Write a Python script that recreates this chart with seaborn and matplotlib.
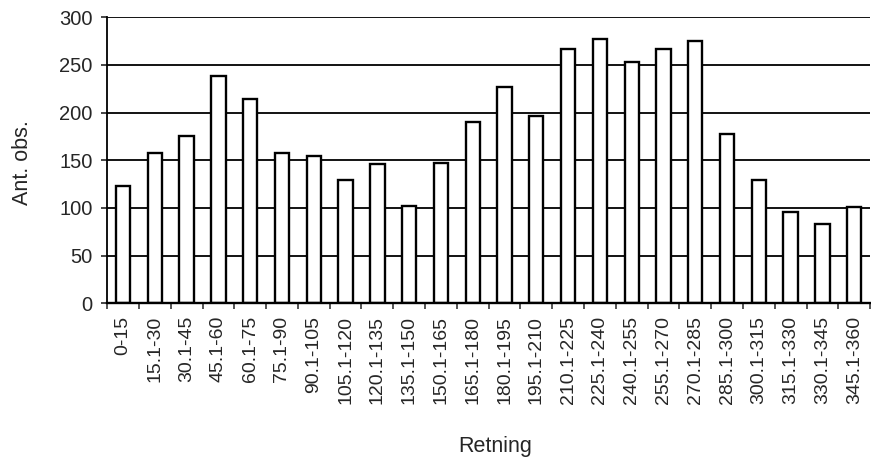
import numpy as np
import pandas as pd
import matplotlib
matplotlib.use("Agg")
import matplotlib.pyplot as plt
import seaborn as sns
from matplotlib.ticker import FixedLocator

# Data
retning = ["0-15", "15.1-30", "30.1-45", "45.1-60", "60.1-75", "75.1-90",
           "90.1-105", "105.1-120", "120.1-135", "135.1-150", "150.1-165",
           "165.1-180", "180.1-195", "195.1-210", "210.1-225", "225.1-240",
           "240.1-255", "255.1-270", "270.1-285", "285.1-300", "300.1-315",
           "315.1-330", "330.1-345", "345.1-360"]
ant_obs = [123, 158, 175, 238, 214, 158, 154, 129, 146, 102, 147, 190,
           227, 196, 267, 277, 253, 267, 275, 178, 129, 96, 83, 101]
y_ticks = [0, 50, 100, 150, 200, 250, 300]

data = pd.DataFrame({"Retning": retning, "Ant. obs.": ant_obs})

sns.set_style("white")
plt.rcParams["font.family"] = ["Liberation Sans", "DejaVu Sans"]

fig = plt.figure(figsize=(8.71, 4.65), dpi=100)
ax = fig.add_axes([0.123, 0.348, 0.876, 0.615])

# horizontal grid lines behind the bars
for y in y_ticks[1:]:
    ax.axhline(y, color="black", lw=1.3, zorder=0)

sns.barplot(data=data, x="Retning", y="Ant. obs.", color="white",
            edgecolor="black", linewidth=1.7, width=0.45, ax=ax, zorder=2)
for p in ax.patches:
    p.set_facecolor("white")

ax.set_xlim(-0.5, len(retning) - 0.5)
ax.set_ylim(0, 300)
ax.set_yticks(y_ticks)
ax.tick_params(axis="y", labelsize=14.5, length=4.5, width=1.2, pad=6,
               direction="out", left=True)
ax.tick_params(axis="x", which="major", labelsize=14, rotation=90, length=0, pad=9)
ax.xaxis.set_minor_locator(FixedLocator(np.arange(-0.5, len(retning), 1)))
ax.tick_params(axis="x", which="minor", length=4, width=1.1,
               direction="out", bottom=True)

for s in ["top", "right"]:
    ax.spines[s].set_visible(False)
ax.spines["left"].set_linewidth(1.3)
ax.spines["bottom"].set_linewidth(1.7)
for s in ["left", "bottom"]:
    ax.spines[s].set_color("black")

ax.set_ylabel("Ant. obs.", fontsize=15.5)
ax.set_xlabel("Retning", fontsize=15.5)
ax.yaxis.set_label_coords(-0.097, 0.49)
ax.xaxis.set_label_coords(0.509, -0.465)

fig.savefig("out.png", dpi=100)
